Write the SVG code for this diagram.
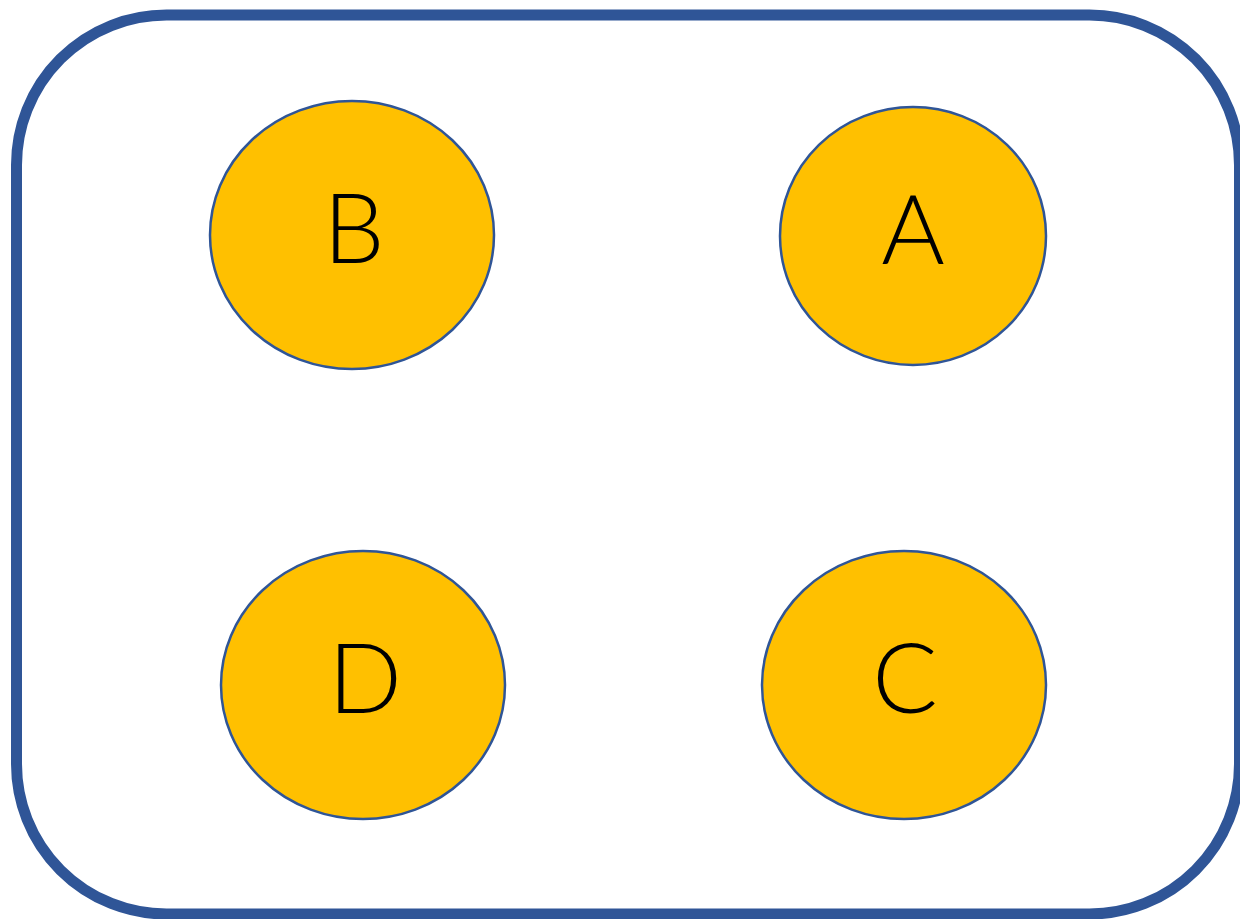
<svg xmlns="http://www.w3.org/2000/svg" width="1240" height="919" viewBox="0 0 1240 919">
<style>
.frame{fill:#FFFFFF;stroke:#2F5597;stroke-width:11}
.node ellipse{fill:#FFC000;stroke:#2F5597;stroke-width:2.5}
.node text{font-family:"Lato","Noto Sans","Liberation Sans",sans-serif;font-weight:300;font-size:97px;fill:#000000;text-anchor:middle}
</style>
<rect width="1240" height="919" fill="#FFFFFF"/>
<rect id="frame" class="frame" x="16.5" y="15" width="1223" height="899" rx="150" ry="150"/>
<g id="node-B" class="node">
<ellipse cx="352" cy="235" rx="142" ry="134"/>
<text x="354" y="263">B</text>
</g>
<g id="node-A" class="node">
<ellipse cx="913" cy="236" rx="133" ry="129"/>
<text x="913" y="264">A</text>
</g>
<g id="node-D" class="node">
<ellipse cx="363" cy="685" rx="142" ry="134"/>
<text x="365" y="713">D</text>
</g>
<g id="node-C" class="node">
<ellipse cx="904" cy="685" rx="142" ry="134"/>
<text x="905" y="713">C</text>
</g>
<g id="connectors"></g>
</svg>
